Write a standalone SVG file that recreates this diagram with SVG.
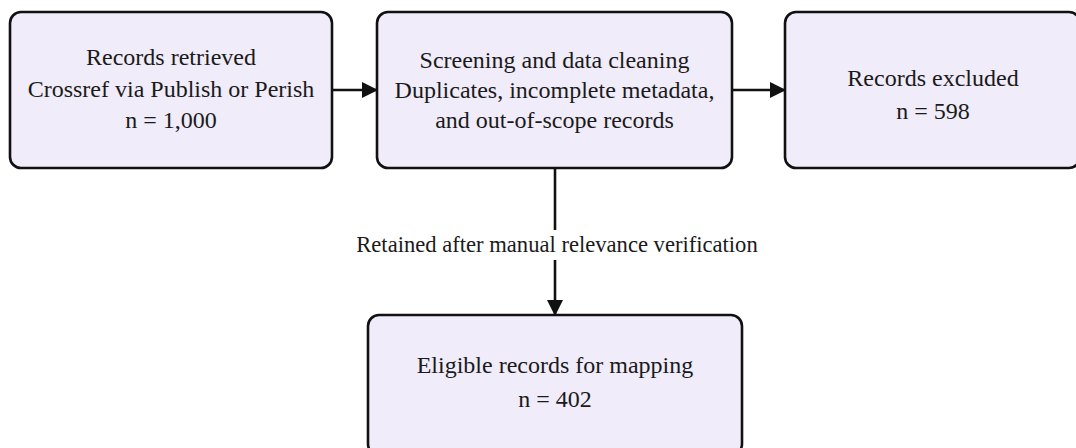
<svg xmlns="http://www.w3.org/2000/svg" width="1076" height="448" viewBox="0 0 1076 448">
<style>
.box{fill:#f0ecf9;stroke:#111;stroke-width:2.6}
.t{font-family:"Liberation Serif","Times New Roman",serif;font-size:24px;fill:#1a1a1a;text-anchor:middle}
.lbl{font-family:"Liberation Serif","Times New Roman",serif;font-size:22.6px;fill:#1a1a1a;text-anchor:middle}
.c{stroke:#111;stroke-width:2.6;fill:none}
</style>
<defs>
<marker id="ah" markerWidth="16" markerHeight="16" refX="15" refY="8" orient="auto" markerUnits="userSpaceOnUse">
<path d="M0,0 L16,8 L0,16 Z" fill="#111"/>
</marker>
</defs>
<rect width="1076" height="448" fill="#ffffff"/>
<g id="n1">
<rect class="box" x="10" y="12" width="322" height="156" rx="11"/>
<text class="t" x="171" y="65">Records retrieved</text>
<text class="t" x="171" y="97">Crossref via Publish or Perish</text>
<text class="t" x="171" y="128">n = 1,000</text>
</g>
<g id="n2">
<rect class="box" x="377" y="12" width="355" height="156" rx="11"/>
<text class="t" x="554.5" y="68">Screening and data cleaning</text>
<text class="t" x="554.5" y="98">Duplicates, incomplete metadata,</text>
<text class="t" x="554.5" y="128">and out-of-scope records</text>
</g>
<g id="n3">
<rect class="box" x="785" y="12" width="295" height="156" rx="11"/>
<text class="t" x="933" y="86">Records excluded</text>
<text class="t" x="933" y="119">n = 598</text>
</g>
<g id="n4">
<rect class="box" x="368" y="315" width="374" height="140" rx="11"/>
<text class="t" x="555" y="373">Eligible records for mapping</text>
<text class="t" x="555" y="407">n = 402</text>
</g>
<g id="connectors">
<line class="c" x1="332" y1="90" x2="377" y2="90" marker-end="url(#ah)"/>
<line class="c" x1="732" y1="90" x2="785" y2="90" marker-end="url(#ah)"/>
<line class="c" x1="555" y1="168" x2="555" y2="315" marker-end="url(#ah)"/>
<rect x="355" y="230" width="406" height="30" fill="#ffffff"/>
<text class="lbl" x="557" y="252">Retained after manual relevance verification</text>
</g>
</svg>
